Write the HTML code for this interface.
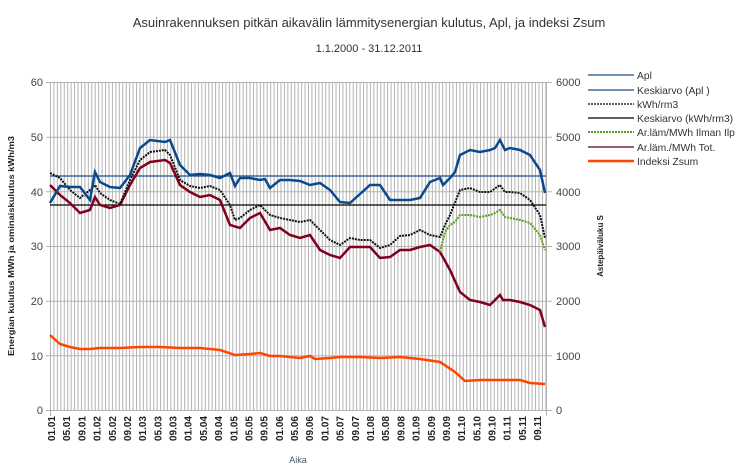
<!DOCTYPE html>
<html><head><meta charset="utf-8"><style>
body{margin:0;background:#fff;}
svg{display:block;font-family:"Liberation Sans",sans-serif;}
</style></head><body>
<svg width="739" height="471" viewBox="0 0 739 471" xmlns="http://www.w3.org/2000/svg">
<defs>
<pattern id="vg" x="50" y="0" width="3.44" height="10" patternUnits="userSpaceOnUse">
<line x1="0.5" y1="0" x2="0.5" y2="10" stroke="#b3b3b3" stroke-width="1"/>
</pattern>
</defs>
<rect width="739" height="471" fill="#fff"/>
<text x="369" y="27" font-size="13" text-anchor="middle" fill="#333">Asuinrakennuksen pitkän aikavälin lämmitysenergian kulutus, Apl, ja indeksi Zsum</text>
<text x="369" y="52" font-size="11" text-anchor="middle" fill="#333">1.1.2000 - 31.12.2011</text>
<rect x="50" y="82" width="496" height="328" fill="url(#vg)"/>
<g stroke="#b3b3b3" stroke-width="1">
<line x1="46" y1="82.5" x2="552" y2="82.5"/>
<line x1="46" y1="137.2" x2="552" y2="137.2"/>
<line x1="46" y1="191.8" x2="552" y2="191.8"/>
<line x1="46" y1="246.5" x2="552" y2="246.5"/>
<line x1="46" y1="301.2" x2="552" y2="301.2"/>
<line x1="46" y1="355.8" x2="552" y2="355.8"/>
<line x1="46" y1="410.5" x2="552" y2="410.5"/>
<line x1="50.5" y1="82" x2="50.5" y2="416"/>
<line x1="546.5" y1="82" x2="546.5" y2="416"/>
</g>
<g font-size="11" fill="#444" text-anchor="end">
<text x="43" y="86">60</text><text x="43" y="141">50</text><text x="43" y="196">40</text><text x="43" y="250">30</text><text x="43" y="305">20</text><text x="43" y="360">10</text><text x="43" y="414">0</text>
</g>
<g font-size="11" fill="#444" text-anchor="start">
<text x="556" y="86">6000</text><text x="556" y="141">5000</text><text x="556" y="196">4000</text><text x="556" y="250">3000</text><text x="556" y="305">2000</text><text x="556" y="360">1000</text><text x="556" y="414">0</text>
</g>
<text transform="translate(14,246) rotate(-90)" font-size="8" font-weight="bold" text-anchor="middle" fill="#222" textLength="220" lengthAdjust="spacingAndGlyphs">Energian kulutus MWh ja ominaiskulutus kWh/m3</text>
<text transform="translate(603,246) rotate(-90)" font-size="8" font-weight="bold" text-anchor="middle" fill="#222">Astepäiväluku S</text>
<text x="298" y="463" font-size="9" text-anchor="middle" fill="#456">Aika</text>
<g font-size="10" font-weight="bold" fill="#222" text-anchor="end">
<text transform="translate(55,416) rotate(-90)">01.01</text>
<text transform="translate(70.2,416) rotate(-90)">05.01</text>
<text transform="translate(85.4,416) rotate(-90)">09.01</text>
<text transform="translate(100.6,416) rotate(-90)">01.02</text>
<text transform="translate(115.8,416) rotate(-90)">05.02</text>
<text transform="translate(131,416) rotate(-90)">09.02</text>
<text transform="translate(146.1,416) rotate(-90)">01.03</text>
<text transform="translate(161.3,416) rotate(-90)">05.03</text>
<text transform="translate(176.5,416) rotate(-90)">09.03</text>
<text transform="translate(191.7,416) rotate(-90)">01.04</text>
<text transform="translate(206.9,416) rotate(-90)">05.04</text>
<text transform="translate(222.1,416) rotate(-90)">09.04</text>
<text transform="translate(237.3,416) rotate(-90)">01.05</text>
<text transform="translate(252.5,416) rotate(-90)">05.05</text>
<text transform="translate(267.7,416) rotate(-90)">09.05</text>
<text transform="translate(282.9,416) rotate(-90)">01.06</text>
<text transform="translate(298,416) rotate(-90)">05.06</text>
<text transform="translate(313.2,416) rotate(-90)">09.06</text>
<text transform="translate(328.4,416) rotate(-90)">01.07</text>
<text transform="translate(343.6,416) rotate(-90)">05.07</text>
<text transform="translate(358.8,416) rotate(-90)">09.07</text>
<text transform="translate(374,416) rotate(-90)">01.08</text>
<text transform="translate(389.2,416) rotate(-90)">05.08</text>
<text transform="translate(404.4,416) rotate(-90)">09.08</text>
<text transform="translate(419.6,416) rotate(-90)">01.09</text>
<text transform="translate(434.8,416) rotate(-90)">05.09</text>
<text transform="translate(450,416) rotate(-90)">09.09</text>
<text transform="translate(465.1,416) rotate(-90)">01.10</text>
<text transform="translate(480.3,416) rotate(-90)">05.10</text>
<text transform="translate(495.5,416) rotate(-90)">09.10</text>
<text transform="translate(510.7,416) rotate(-90)">01.11</text>
<text transform="translate(525.9,416) rotate(-90)">05.11</text>
<text transform="translate(541.1,416) rotate(-90)">09.11</text>
</g>
<line x1="50" y1="176" x2="546" y2="176" stroke="#1f4e8c" stroke-width="1.2"/>
<line x1="50" y1="205" x2="546" y2="205" stroke="#000" stroke-width="1.2"/>
<polyline fill="none" stroke="#ff4500" stroke-width="2.5" points="50,335 60,344 70,347 80,349 90,349 100,348 120,348 140,347 160,347 180,348 200,348 220,350 235,355 250,354 260,353 270,356 280,356 300,358 310,356 315,359 330,358 340,357 360,357 380,358 400,357 420,359 440,362 455,372 465,381 480,380 500,380 520,380 530,383 545,384"/>
<polyline fill="none" stroke="#82001e" stroke-width="2.5" points="50,185 60,195 70,203 80,213 90,210 95,197 100,205 110,208 120,205 130,185 140,168 150,162 165,160 170,163 180,185 190,192 200,197 210,195 220,200 230,225 240,228 250,218 260,213 270,230 280,228 290,235 300,238 310,235 320,250 330,255 340,258 350,247 360,247 370,247 380,258 390,257 400,250 410,250 420,247 430,245 440,252 450,270 460,292 470,300 480,302 490,305 500,295 503,300 510,300 520,302 530,305 540,310 545,327"/>
<polyline fill="none" stroke="#5a9e1e" stroke-width="2" stroke-dasharray="2,1" points="440,252 445,232 450,225 455,222 460,215 470,215 480,217 490,215 495,213 500,210 505,217 510,218 520,220 530,223 540,235 545,250"/>
<polyline fill="none" stroke="#111" stroke-width="2" stroke-dasharray="2,1" points="50,173 60,178 70,190 80,198 90,190 95,185 100,193 110,200 120,204 130,180 140,160 150,152 165,150 170,155 180,180 190,186 200,188 210,186 220,190 230,205 235,220 240,218 250,210 260,205 270,215 280,218 290,220 300,222 310,220 320,230 330,240 340,245 350,238 360,240 370,240 380,248 390,245 400,236 410,235 420,230 430,235 440,237 445,225 450,215 460,190 470,188 480,192 490,192 500,185 505,192 510,192 520,193 530,200 540,215 545,238"/>
<polyline fill="none" stroke="#0a4a8c" stroke-width="2.5" points="50,203 60,186 70,187 80,187 90,200 95,172 100,182 110,187 120,188 130,175 140,148 150,140 165,142 170,140 180,165 190,175 200,174 210,175 220,178 230,173 235,186 240,178 250,178 260,180 265,179 270,188 280,180 290,180 300,181 310,185 320,183 330,190 340,202 350,203 360,194 370,185 380,185 390,200 400,200 410,200 420,198 430,182 440,178 443,185 450,178 455,172 460,155 470,150 480,152 490,150 495,148 500,140 505,150 510,148 520,150 530,155 540,170 545,193"/>
<g stroke-width="1.2">
<line x1="588" y1="75" x2="634" y2="75" stroke="#1f4e8c"/>
<line x1="588" y1="90" x2="634" y2="90" stroke="#1f4e8c"/>
<line x1="588" y1="104" x2="634" y2="104" stroke="#000" stroke-dasharray="2,1"/>
<line x1="588" y1="118" x2="634" y2="118" stroke="#000"/>
<line x1="588" y1="132" x2="634" y2="132" stroke="#5a9e1e" stroke-width="2" stroke-dasharray="2,1"/>
<line x1="588" y1="147" x2="634" y2="147" stroke="#5a0016"/>
<line x1="588" y1="161" x2="634" y2="161" stroke="#ff4500" stroke-width="2.5"/>
</g>
<g font-size="10.3" fill="#333">
<text x="637" y="79">Apl</text>
<text x="637" y="94">Keskiarvo (Apl )</text>
<text x="637" y="108">kWh/rm3</text>
<text x="637" y="122">Keskiarvo (kWh/rm3)</text>
<text x="637" y="136">Ar.läm/MWh Ilman Ilp</text>
<text x="637" y="151">Ar.läm./MWh Tot.</text>
<text x="637" y="165">Indeksi Zsum</text>
</g>
</svg>
</body></html>
